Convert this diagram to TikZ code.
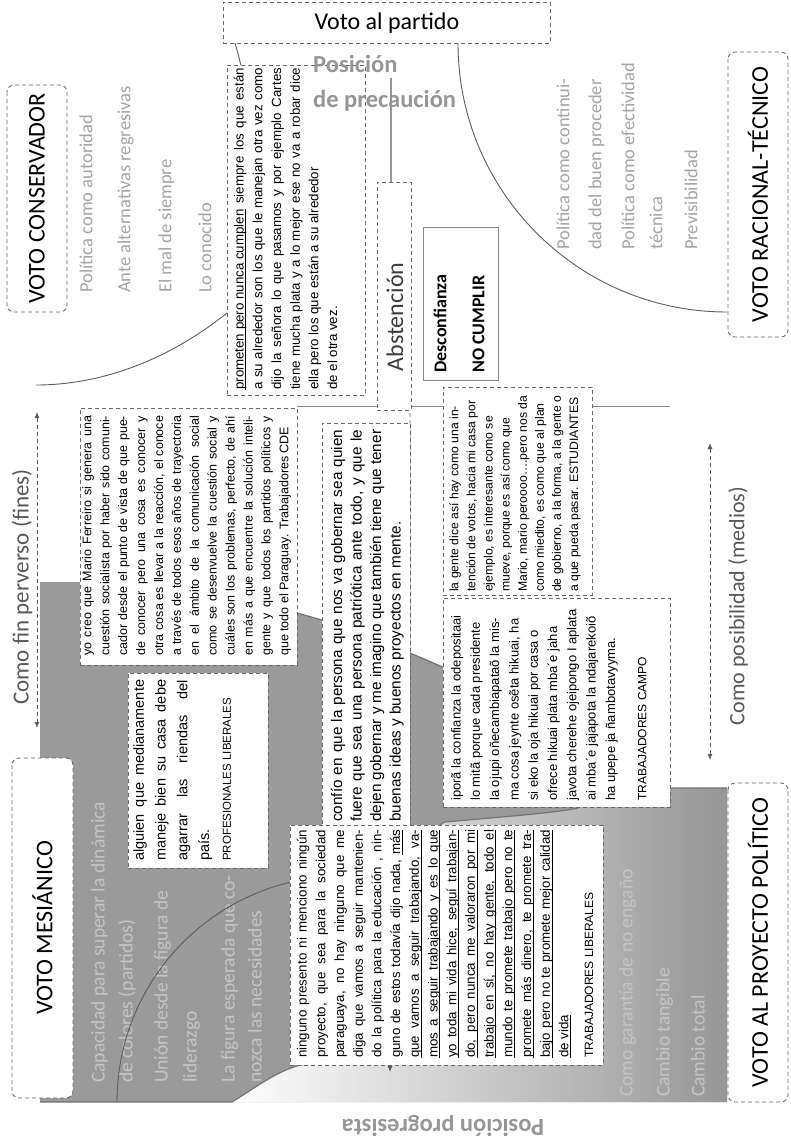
\documentclass[tikz,border=0pt]{standalone}
\usepackage{fontspec}
\setmainfont{Carlito}
\newfontfamily\qf{Liberation Sans}
\usetikzlibrary{arrows.meta}
\definecolor{boxc}{RGB}{105,105,105}
\definecolor{linec}{RGB}{95,95,95}
\definecolor{grayA}{RGB}{154,154,154}
\definecolor{grayW}{RGB}{150,150,150}
\definecolor{edgec}{RGB}{115,115,115}
\definecolor{lblc}{RGB}{165,165,165}
\definecolor{lblonc}{RGB}{196,196,196}
\definecolor{posc}{RGB}{150,150,150}
\definecolor{arrc}{RGB}{90,90,90}
\definecolor{axc}{RGB}{140,140,140}
\definecolor{descc}{RGB}{140,140,140}
\definecolor{absc}{RGB}{60,60,60}
\definecolor{comoc}{RGB}{89,89,89}
\newcommand{\JL}[2]{\hbox to #1pt{#2}}
\newcommand{\JLU}[2]{\hbox to #1pt{\rlap{\rule[-2.5pt]{#1pt}{0.7pt}}#2}}
\newcommand{\ULw}[1]{\setbox0=\hbox{#1}\rlap{\rule[-2.5pt]{\wd0}{0.7pt}}\box0\relax}
\begin{document}
\begin{tikzpicture}[x=1pt,y=-1pt,
 dbox/.style={draw=boxc, dash pattern=on 4pt off 3pt, line width=0.9pt, fill=white, inner sep=0pt},
 vbox/.style={dbox, rounded corners=7pt},
 qtext/.style={rotate=90, anchor=north west, inner sep=0pt, align=left},
 lbl/.style={rotate=90, anchor=west, inner sep=0pt, text=lblc, font=\fontsize{18.5}{22}\selectfont, execute at begin node=\strut},
 lblon/.style={rotate=90, anchor=west, inner sep=0pt, text=lblonc, font=\fontsize{19.5}{23}\selectfont, execute at begin node=\strut},
 head/.style={vbox, rotate=90, font=\fontsize{24}{29}\selectfont},
 darr/.style={draw=arrc, dash pattern=on 4pt off 3pt, line width=0.9pt},
 arcl/.style={draw=linec, line width=0.9pt},
 posf/.style={inner sep=0pt, text=posc, font=\bfseries\fontsize{24.5}{29}\selectfont},
]
\useasboundingbox (0,0) rectangle (790,1140);
\fill[white] (0,0) rectangle (790,1140);

% gray area
\fill[grayA] (40,582) -- (200,582) .. controls (250,590) and (280,605) .. (297,613) -- (322,620) -- (410,653) -- (445,668) -- (600,740) -- (668,770) -- (668,788) -- (727,788) -- (727,1102) -- (40,1102) -- cycle;
\shade[left color=white, right color=grayW] (232,1102) .. controls (255,1088) and (275,1072) .. (300,1065) -- (395,1060) .. controls (420,1000) and (415,830) .. (445,822) .. controls (500,817) and (555,813) .. (578,808) -- (600,795) -- (668,788) -- (727,788) -- (727,1102) -- cycle;
\draw[edgec, line width=1.2pt] (297,613) -- (322,620) -- (410,653) -- (445,668) -- (600,740) -- (668,770) -- (668,788) -- (727,788);
\draw[edgec, line width=1.2pt] (40,1102) -- (232,1102) .. controls (255,1088) and (275,1072) .. (300,1065) -- (395,1060) .. controls (420,1000) and (415,830) .. (445,822) .. controls (500,817) and (555,813) .. (578,808);

% axis and connectors
\draw[axc, line width=1pt] (297,406) -- (670,406);
\draw[posc, line width=1.5pt] (391,78) -- (391,182);
\draw[arcl] (235,43) .. controls (255,110) and (277,273) .. (227,313) .. controls (167,361) and (100,385) .. (36,385);
\draw[arcl] (458,43) arc[start angle=180, end angle=270, radius=269pt];

\coordinate (fa) at (37,412); \coordinate (fb) at (37,728);
\draw[darr, {Latex[length=6pt,width=5pt]}-{Latex[length=6pt,width=5pt]}] (fa) -- (fb);
\coordinate (pa) at (710,443); \coordinate (pb) at (710,760);
\draw[darr, {Latex[length=6pt,width=5pt]}-{Latex[length=6pt,width=5pt]}] (pa) -- (pb);
\coordinate (ta) at (410,406); \coordinate (tb) at (390,1072);
\draw[darr, -{Latex[length=6pt,width=5pt]}] (ta) -- (410,840) -- (390,900) -- (tb);

% labels on gray
\node[lblon] (m1) at (100,1083) {Capacidad para superar la dinámica};
\node[lblon] (m2) at (128,1083) {de colores (partidos)};
\node[lblon] (m3) at (163,1083) {Unión desde la figura de};
\node[lblon] (m4) at (192,1083) {liderazgo};
\node[lblon] (m5) at (230,1083) {La figura esperada que co-};
\node[lblon] (m6) at (257,1083) {nozca las necesidades};
\node[lblon] (p1) at (628,1097) {Como garantía de no engaño};
\node[lblon] (p2) at (665,1097) {Cambio tangible};
\node[lblon] (p3) at (700,1097) {Cambio total};

\draw[arcl] (117,1102) arc[start angle=180, end angle=90, radius=226pt];

% labels on white
\node[lbl] (c1) at (88,293) {Política como autoridad};
\node[lbl] (c2) at (126,293) {Ante alternativas regresivas};
\node[lbl] (c3) at (167,293) {El mal de siempre};
\node[lbl] (c4) at (207,293) {Lo conocido};
\node[lbl] (r1) at (565,250) {Política como continui-};
\node[lbl] (r2) at (597,250) {dad del buen proceder};
\node[lbl] (r3) at (630,250) {Política como efectividad};
\node[lbl] (r4) at (658,250) {técnica};
\node[lbl] (r5) at (693,250) {Previsibilidad};

% headings
\node[dbox, minimum width=327pt, minimum height=41pt, anchor=north west, font=\fontsize{24}{29}\selectfont] (vap) at (223,2) {Voto al partido};
\node[head, minimum width=227pt, minimum height=60pt] (vc) at (37,198.5) {VOTO CONSERVADOR};
\node[head, minimum width=285pt, minimum height=60pt] (vr) at (758,194.5) {VOTO RACIONAL-TÉCNICO};
\node[head, minimum width=340pt, minimum height=61pt] (vm) at (42.5,928) {VOTO MESIÁNICO};
\node[head, minimum width=319pt, minimum height=60pt] (vp) at (758,942.5) {VOTO AL PROYECTO POLÍTICO};

\node[rotate=90, inner sep=0pt, text=comoc, font=\fontsize{23}{27}\selectfont] (cf) at (22,587) {Como fin perverso (fines)};
\node[rotate=90, inner sep=0pt, text=comoc, font=\fontsize{22}{26}\selectfont] (cp) at (738,606) {Como posibilidad (medios)};

\node[dbox, minimum width=34pt, minimum height=228pt, anchor=north west] (abx) at (377,182) {};
\node[rotate=90, inner sep=0pt, text=absc, font=\fontsize{24}{29}\selectfont] (abt) at (395,317) {Abstención};

\node[draw=descc, line width=1.3pt, fill=white, minimum width=75pt, minimum height=153pt, anchor=north west, inner sep=0pt] (desc) at (423,227) {};
\node[rotate=90, anchor=west, inner sep=0pt, font=\bfseries\fontsize{18}{22}\selectfont, execute at begin node=\strut] (d1) at (442,373) {Desconfianza};
\node[rotate=90, anchor=west, inner sep=0pt, font=\bfseries\fontsize{18}{22}\selectfont, execute at begin node=\strut] (d2) at (480,373) {NO CUMPLIR};

% quote boxes
\node[dbox, minimum width=138pt, minimum height=330pt, anchor=north west] (qb1) at (227,65) {};
\node[qtext, font=\qf\fontsize{13.3}{18.7}\selectfont] (t1) at (230.4,390) {%
\JL{322}{\strut\ULw{prometen pero nunca cumplen} siempre los que están}\\
\JL{322}{a su alrededor son los que le manejan otra vez como}\\
\JL{322}{dijo la señora lo que pasamos y por ejemplo Cartes}\\
\JL{322}{tiene mucha plata y a lo mejor ese no va a robar dice}\\
ella pero los que están a su alrededor\\
de el otra vez.};

\node[dbox, minimum width=217pt, minimum height=257pt, anchor=north west] (qb2) at (80,408) {};
\node[qtext, font=\qf\fontsize{12.5}{17.9}\selectfont] (t2) at (78.7,656) {%
\JL{240}{\strut yo creo que Mario Ferreiro si genera una}\\
\JL{240}{cuestión socialista por haber sido comuni-}\\
\JL{240}{cador desde el punto de vista de que pue-}\\
\JL{240}{de conocer pero una cosa es conocer y}\\
\JL{240}{otra cosa es llevar a la reacción, el conoce}\\
\JL{240}{a través de todos esos años de trayectoria}\\
\JL{240}{en el ámbito de la comunicación social}\\
\JL{240}{como se desenvuelve la cuestión social y}\\
\JL{240}{cuáles son los problemas, perfecto, de ahí}\\
\JL{240}{en más a que encuentre la solución inteli-}\\
\JL{240}{gente y que todos los partidos políticos y}\\
que todo el Paraguay. Trabajadores CDE};

\node[dbox, minimum width=140pt, minimum height=195pt, anchor=north west] (qb3) at (128,673) {};
\node[qtext, font=\qf\fontsize{14.5}{21.7}\selectfont] (t3) at (128.6,861) {%
\JL{181}{\strut alguien que medianamente}\\
\JL{181}{maneje bien su casa debe}\\
\JL{181}{agarrar las riendas del}\\
país.\\
{\fontsize{11.5}{21.7}\selectfont PROFESIONALES LIBERALES}};

\node[dbox, minimum width=88pt, minimum height=407pt, anchor=north west] (qb4) at (322,423) {};
\node[qtext, font=\qf\fontsize{15.3}{19.5}\selectfont] (t4) at (328.3,822) {%
\JL{392}{\strut confío en que la persona que nos va gobernar sea quien}\\
\JL{392}{fuere que sea una persona patriótica ante todo, y que le}\\
\JL{392}{dejen gobernar y me imagino que también tiene que tener}\\
buenas ideas y buenos proyectos en mente.};

\node[dbox, minimum width=149pt, minimum height=208pt, anchor=north west] (qb5) at (443,387) {};
\node[qtext, font=\qf\fontsize{12.2}{17.1}\selectfont] (t5) at (446.2,592) {%
\strut la gente dice así hay como una in-\\
tención de votos, hacia mi casa por\\
ejemplo, es interesante como se\\
mueve, porque es así como que\\
Mario, mario peroooo….pero nos da\\
como miedito, es como que al plan\\
de gobierno, a la forma, a la gente o\\
a que pueda pasar. ESTUDIANTES};

\node[dbox, minimum width=227pt, minimum height=209pt, anchor=north west] (qb6) at (443,598) {};
\node[qtext, font=\qf\fontsize{13}{19.3}\selectfont] (t6) at (446.9,801) {%
\strut iporã la confianza la odepositaai\\
lo mitã porque cada presidente\\
la ojupi oñecambiapataõ la mis-\\
ma cosa jeynte osẽta hikuai, ha\\
si eko la oja hikuai por casa o\\
ofrece hikuai plata mba´e jaha\\
javota cherehe ojeipongo I aplata\\
ai mba´e jajapota la ndajarekoiõ\\
ha upepe ja ñambotavyyma.\\[12pt]
{\fontsize{12}{19.3}\selectfont TRABAJADORES CAMPO}};

\node[dbox, minimum width=313pt, minimum height=240pt, anchor=north west] (qb7) at (290,825) {};
\node[qtext, font=\qf\fontsize{13.3}{18.7}\selectfont] (t7) at (293.4,1058) {%
\JL{228}{\strut ninguno presento ni menciono ningún}\\
\JL{228}{proyecto, que sea para la sociedad}\\
\JL{228}{paraguaya, no hay ninguno que me}\\
\JL{228}{diga que vamos a seguir mantenien-}\\
\JL{228}{do la política para la educación , nin-}\\
\JL{228}{guno de estos todavía dijo nada, \ULw{más}}\\
\JLU{228}{que vamos a seguir trabajando, va-}\\
\JLU{228}{mos a seguir trabajando y es lo que}\\
\JLU{228}{yo toda mi vida hice, seguí trabajan-}\\
\JLU{228}{do, pero nunca me valoraron por mi}\\
\JLU{228}{trabajo en sí, no hay gente, todo el}\\
\JLU{228}{mundo te promete trabajo pero no te}\\
\JLU{228}{promete más dinero, te promete tra-}\\
\JLU{228}{bajo pero no te promete mejor calidad}\\
\ULw{de vida}\\[6pt]
{\fontsize{12}{18.7}\selectfont TRABAJADORES LIBERALES}};

% position titles on top
\node[posf, anchor=base west] (pos1) at (313,72) {Posición};
\node[posf, anchor=base west] (pos2) at (313,107) {de precaución};
\node[posf, rotate=180] (prog) at (443,1126) {Posición progresista};
\end{tikzpicture}
\end{document}
